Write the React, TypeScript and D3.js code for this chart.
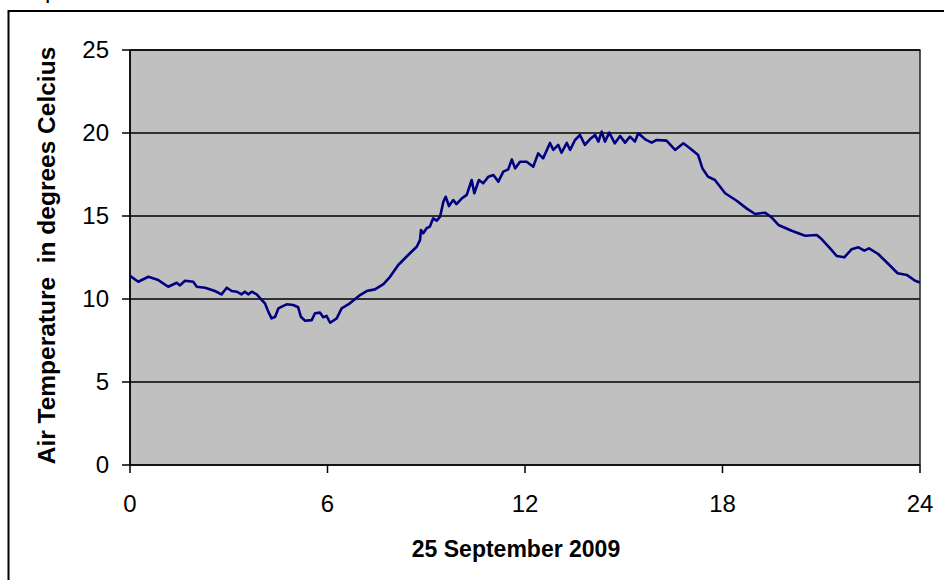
import React from "react";
import * as d3 from "d3";

const hours: number[] = [
  0, 0.25, 0.56, 0.86, 1.16, 1.42, 1.52, 1.67, 1.92, 2.03, 2.28, 2.58, 2.78, 2.94, 3.09, 3.24, 3.39, 3.49, 3.59, 3.7,
  3.85, 4.0, 4.1, 4.2, 4.3, 4.41, 4.51, 4.61, 4.76, 4.96, 5.11, 5.19, 5.32, 5.52, 5.62, 5.77, 5.87, 5.97, 6.08, 6.28,
  6.43, 6.68, 6.99, 7.19, 7.44, 7.7, 7.9, 8.15, 8.45, 8.71, 8.81, 8.84, 8.91, 9.01, 9.11, 9.21, 9.32, 9.42, 9.52, 9.59,
  9.69, 9.82, 9.92, 10.08, 10.23, 10.38, 10.46, 10.6, 10.73, 10.89, 11.04, 11.19, 11.34, 11.49, 11.6, 11.7, 11.85, 12.05, 12.25, 12.4,
  12.55, 12.76, 12.86, 13.01, 13.11, 13.27, 13.37, 13.52, 13.67, 13.82, 13.97, 14.13, 14.23, 14.33, 14.43, 14.56, 14.73, 14.89, 15.04, 15.19,
  15.34, 15.44, 15.65, 15.85, 16.0, 16.3, 16.56, 16.81, 17.01, 17.26, 17.39, 17.56, 17.77, 18.08, 18.43, 18.73, 18.99, 19.29, 19.49, 19.7,
  20.1, 20.51, 20.86, 21.01, 21.27, 21.47, 21.7, 21.92, 22.13, 22.31, 22.45, 22.73, 23.04, 23.32, 23.6, 23.85, 24.0,
];

const temps: number[] = [
  11.39, 11.04, 11.34, 11.14, 10.74, 10.98, 10.82, 11.1, 11.04, 10.74, 10.68, 10.48, 10.28, 10.68, 10.48, 10.44, 10.28, 10.44, 10.28, 10.44,
  10.28, 9.94, 9.74, 9.24, 8.83, 8.93, 9.44, 9.54, 9.68, 9.64, 9.5, 8.93, 8.69, 8.73, 9.14, 9.18, 8.9, 8.98, 8.57, 8.83,
  9.44, 9.74, 10.24, 10.48, 10.58, 10.9, 11.34, 12.05, 12.65, 13.15, 13.55, 14.16, 13.96, 14.26, 14.36, 14.86, 14.72, 14.96, 15.86, 16.16,
  15.6, 15.96, 15.72, 16.06, 16.27, 17.17, 16.37, 17.17, 16.97, 17.37, 17.47, 17.07, 17.67, 17.81, 18.41, 17.87, 18.27, 18.27, 17.97, 18.77,
  18.47, 19.4, 18.98, 19.28, 18.81, 19.4, 18.98, 19.58, 19.88, 19.28, 19.62, 19.88, 19.48, 20.08, 19.48, 20.02, 19.38, 19.82, 19.42, 19.78,
  19.48, 19.98, 19.62, 19.42, 19.58, 19.54, 18.98, 19.38, 19.08, 18.67, 17.87, 17.37, 17.17, 16.37, 15.92, 15.46, 15.12, 15.2, 14.92, 14.46,
  14.11, 13.81, 13.86, 13.61, 13.05, 12.59, 12.51, 12.99, 13.11, 12.91, 13.05, 12.71, 12.11, 11.55, 11.45, 11.1, 11.0,
];

const yTicks: number[] = [0, 5, 10, 15, 20, 25];
const xTicks: number[] = [0, 6, 12, 18, 24];
const yGrid: number[] = [5, 10, 15, 20];

const FONT = "'Liberation Sans', Arial, sans-serif";

export default function App() {
  const left = 130;
  const right = 920;
  const top = 50;
  const bottom = 465;

  const x = d3.scaleLinear().domain([0, 24]).range([left, right]);
  const y = d3.scaleLinear().domain([0, 25]).range([bottom, top]);

  const pts: [number, number][] = hours.map((h, i) => [h, temps[i]]);
  const line = d3
    .line<[number, number]>()
    .x((d) => x(d[0]))
    .y((d) => y(d[1]));

  return (
    <svg
      width={944}
      height={580}
      style={{ position: "absolute", left: 0, top: 0, background: "#fff" }}
    >
      <rect x={0} y={0} width={944} height={580} fill="#fff" />
      <text x={45} y={-2} fontFamily={FONT} fontSize={24} fill="#000">
        p
      </text>
      <rect x={8.5} y={11} width={960} height={600} fill="none" stroke="#000" strokeWidth={2} />

      <rect x={left} y={top} width={right - left} height={bottom - top} fill="#c0c0c0" />

      {yGrid.map((v) => (
        <line key={"g" + v} x1={left} x2={right} y1={y(v)} y2={y(v)} stroke="#000" strokeWidth={1.5} />
      ))}

      <rect
        x={left}
        y={top}
        width={right - left}
        height={bottom - top}
        fill="none"
        stroke="#222"
        strokeWidth={1.5}
      />
      <line x1={left} x2={left} y1={top} y2={bottom} stroke="#000" strokeWidth={1.5} />
      <line x1={left} x2={right} y1={bottom} y2={bottom} stroke="#000" strokeWidth={1.5} />
      <line x1={left} x2={right} y1={top} y2={top} stroke="#000" strokeWidth={1.5} />

      <path d={line(pts) || ""} fill="none" stroke="#000080" strokeWidth={2.6} strokeLinejoin="round" />

      {yTicks.map((v) => (
        <g key={"y" + v}>
          <line x1={left - 8} x2={left} y1={y(v)} y2={y(v)} stroke="#000" strokeWidth={1.5} />
          <text
            x={left - 21}
            y={y(v)}
            dy="0.35em"
            textAnchor="end"
            fontFamily={FONT}
            fontSize={24}
            fill="#000"
          >
            {v}
          </text>
        </g>
      ))}

      {xTicks.map((v) => (
        <g key={"x" + v}>
          <line x1={x(v)} x2={x(v)} y1={bottom} y2={bottom + 8} stroke="#000" strokeWidth={1.5} />
          <text
            x={x(v)}
            y={512}
            textAnchor="middle"
            fontFamily={FONT}
            fontSize={24}
            fill="#000"
          >
            {v}
          </text>
        </g>
      ))}

      <text
        x={516}
        y={557}
        textAnchor="middle"
        fontFamily={FONT}
        fontSize={23}
        fontWeight="bold"
        fill="#000"
      >
        25 September 2009
      </text>

      <text
        transform={`translate(46, ${(top + bottom) / 2 - 2}) rotate(-90)`}
        textAnchor="middle"
        dy="0.35em"
        fontFamily={FONT}
        fontSize={24.5}
        fontWeight="bold"
        fill="#000"
      >
        {"Air Temperature\u00a0 in degrees Celcius"}
      </text>
    </svg>
  );
}
